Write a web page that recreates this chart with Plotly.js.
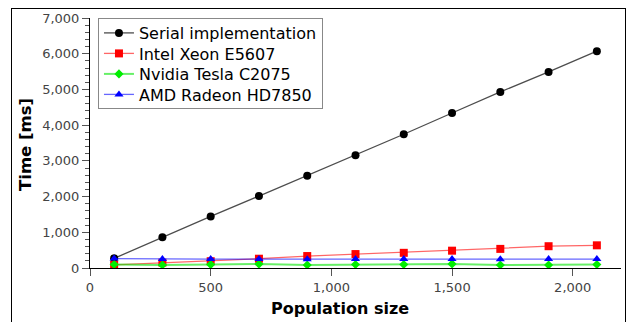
<!DOCTYPE html>
<html>
<head>
<meta charset="utf-8">
<script src="https://cdn.plot.ly/plotly-3.0.1.min.js"></script>
<style>
html,body{margin:0;padding:0;background:#fff;}
#wrap{position:relative;width:627px;height:322px;overflow:hidden;}
#chart{position:absolute;left:0;top:0;width:627px;height:322px;}
#frame{position:absolute;left:11px;top:8px;width:613px;height:330px;border:1px solid #000;pointer-events:none;}
</style>
</head>
<body>
<div id="wrap"><div id="chart"></div><div id="frame"></div></div>
<script>
const populationSize = [100, 300, 500, 700, 900, 1100, 1300, 1500, 1700, 1900, 2100];
const serialTimes = [270, 860, 1445, 2015, 2585, 3160, 3745, 4340, 4930, 5490, 6070];
const intelTimes = [90, 150, 190, 260, 335, 390, 425, 485, 535, 610, 635];
const nvidiaTimes = [100, 85, 95, 110, 85, 100, 100, 115, 85, 85, 100];
const amdTimes = [265, 250, 250, 250, 248, 250, 250, 250, 245, 250, 250];
const seriesNames = ['Serial implementation', 'Intel Xeon E5607', 'Nvidia Tesla C2075', 'AMD Radeon HD7850'];
const xTitle = 'Population size';
const yTitle = 'Time [ms]';

const font = 'DejaVu Sans, sans-serif';
const traces = [
  {x: populationSize, y: serialTimes, name: seriesNames[0], mode: 'lines+markers',
   line: {color: 'rgba(0,0,0,0.7)', width: 1.3}, marker: {color: '#000', symbol: 'circle', size: 8}},
  {x: populationSize, y: intelTimes, name: seriesNames[1], mode: 'lines+markers',
   line: {color: 'rgba(255,0,0,0.6)', width: 1.3}, marker: {color: '#ff0000', symbol: 'square', size: 8}},
  {x: populationSize, y: nvidiaTimes, name: seriesNames[2], mode: 'lines+markers',
   line: {color: 'rgba(0,230,0,0.6)', width: 2}, marker: {color: '#00ee00', symbol: 'diamond', size: 7}},
  {x: populationSize, y: amdTimes, name: seriesNames[3], mode: 'lines+markers',
   line: {color: 'rgba(0,0,255,0.6)', width: 1.3}, marker: {color: '#0000ff', symbol: 'triangle-up', size: 8}}
];

const layout = {
  width: 627, height: 322,
  margin: {l: 90, r: 6, t: 18, b: 54},
  paper_bgcolor: '#fff', plot_bgcolor: '#fff',
  font: {family: font, color: '#444', size: 13},
  separators: '.,',
  showlegend: true,
  legend: {x: 0.015, y: 1, xanchor: 'left', yanchor: 'top', bgcolor: '#fff',
           bordercolor: '#888', borderwidth: 1, font: {family: font, size: 16, color: '#000'},
           tracegroupgap: 0, itemwidth: 30},
  xaxis: {range: [0, 2200], tickvals: [0, 500, 1000, 1500, 2000], tickformat: ',d',
          showgrid: false, zeroline: false, showline: true, linecolor: '#000', linewidth: 1,
          ticks: 'outside', ticklen: 7, tickcolor: '#555', tickfont: {size: 13, color: '#444'}},
  yaxis: {range: [0, 7000], dtick: 1000, tickformat: ',d',
          showgrid: false, zeroline: false, showline: true, linecolor: '#000', linewidth: 1,
          ticks: 'outside', ticklen: 7, tickcolor: '#555', tickfont: {size: 13, color: '#444'},
          minor: {dtick: 200, ticks: 'outside', ticklen: 4, tickcolor: '#555', showgrid: false}},
  annotations: [
    {text: '<b>' + xTitle + '</b>', xref: 'paper', yref: 'paper', x: (340 - 90) / 531, y: -0.16,
     xanchor: 'center', yanchor: 'middle', showarrow: false, font: {family: font, size: 16, color: '#000'}},
    {text: '<b>' + yTitle + '</b>', xref: 'paper', yref: 'paper', x: (25.5 - 90) / 531, y: (268 - 144.5) / 250,
     xanchor: 'center', yanchor: 'middle', textangle: -90, showarrow: false, font: {family: font, size: 16.5, color: '#000'}}
  ]
};

Plotly.newPlot('chart', traces, layout, {displayModeBar: false, staticPlot: true}).then(function () {
  // tighten legend row spacing to match the reference (~20.5px per row)
  const items = document.querySelectorAll('#chart .legend .traces');
  const spacing = 20.5;
  let y0 = null;
  items.forEach(function (g, i) {
    const tr = g.getAttribute('transform') || '';
    const m = tr.match(/translate\(\s*([-\d.]+)[ ,]+([-\d.]+)\s*\)/);
    if (!m) return;
    const x = parseFloat(m[1]);
    const y = parseFloat(m[2]);
    if (y0 === null) y0 = y - 3;
    g.setAttribute('transform', 'translate(' + x + ',' + (y0 + i * spacing) + ')');
  });
  const bg = document.querySelector('#chart .legend rect.bg');
  if (bg) bg.setAttribute('height', 90);
});
</script>
</body>
</html>
